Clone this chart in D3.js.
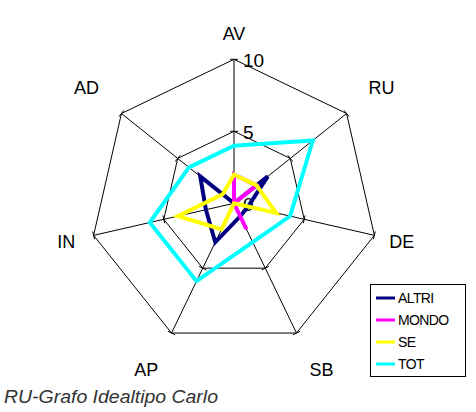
<!DOCTYPE html>
<html><head><meta charset="utf-8">
<script src="https://cdn.jsdelivr.net/npm/d3@7/dist/d3.min.js"></script>
<style>
html,body{margin:0;padding:0;background:#fff;}
svg{display:block;}
text{font-family:"Liberation Sans",Arial,sans-serif;}
</style></head>
<body>
<svg id="chart" width="476" height="412"></svg>
<script>
const categories = ["AV","RU","DE","SB","AP","IN","AD"];
const seriesNames = ["ALTRI","MONDO","SE","TOT"];
const ALTRI = [0,3,1,1,3,2,3];
const MONDO = [2,2,0,2,0,0,0];
const SE    = [2,2,3,0,2,4,1];
const TOT   = [4,7,4,3,6,6,4];
const seriesColors = ["#000080","#FF00FF","#FFFF00","#00FFFF"];
const ringValues = [5,10];
const tickLabels = ["0","5","10"];
const tickValues = [0,5,10];
const title = "RU-Grafo Idealtipo Carlo";

const svg = d3.select("#chart");
const cx = 234, cy = 203.3, R = 144;
const r = d3.scaleLinear().domain([0,10]).range([0,R]);
const n = categories.length;
const ang = d3.scaleLinear().domain([0,n]).range([0,2*Math.PI]);
const pt = (i,v)=>[cx+Math.sin(ang(i))*r(v), cy-Math.cos(ang(i))*r(v)];

const g = svg.append("g");
// rings
ringValues.forEach(v=>{
  g.append("path")
    .attr("d", d3.line()(d3.range(n).map(i=>pt(i,v)))+"Z")
    .attr("fill","none").attr("stroke","#000").attr("stroke-width",1);
});
// axes + ticks
d3.range(n).forEach(i=>{
  const [x2,y2]=pt(i,10);
  g.append("line").attr("x1",cx).attr("y1",cy).attr("x2",x2).attr("y2",y2)
    .attr("stroke","#000").attr("stroke-width",1);
  const a=ang(i);
  const px=Math.cos(a), py=Math.sin(a);
  ringValues.forEach(v=>{
    const [x,y]=pt(i,v);
    g.append("line").attr("x1",x-px*4).attr("y1",y-py*4).attr("x2",x+px*4).attr("y2",y+py*4)
      .attr("stroke","#000").attr("stroke-width",1);
  });
});
// tick labels
tickValues.forEach((v,k)=>{
  const [x,y]=pt(0,v);
  g.append("text").attr("x",x+9).attr("y",y+1).attr("dominant-baseline","central")
    .attr("font-size",19).attr("fill","#000").text(tickLabels[k]);
});
// category labels
const labelR = r(10)+28;
categories.forEach((c,i)=>{
  const a=ang(i), dx=Math.sin(a), dy=-Math.cos(a);
  let x=cx+dx*labelR, y=cy+dy*labelR;
  if (Math.abs(dy)>0.5 && Math.abs(dx)>0.3){ x+=Math.sign(dx)*13; y+=Math.sign(dy)*(dy>0?12:8); }
  if (Math.abs(dx)<0.1) y+=3;
  g.append("text").attr("font-size",18).attr("fill","#000")
    .attr("text-anchor","middle").attr("dominant-baseline","central")
    .attr("x",x).attr("y",y).text(c);
});
// series
const data=[ALTRI,MONDO,SE,TOT];
data.forEach((vals,s)=>{
  g.append("path")
    .attr("d", d3.line()(vals.map((v,i)=>pt(i,v)))+"Z")
    .attr("fill","none").attr("stroke",seriesColors[s]).attr("stroke-width",4)
    .attr("stroke-linejoin","miter");
});
// legend
const lg=svg.append("g");
lg.append("rect").attr("x",370.5).attr("y",284.5).attr("width",95).attr("height",92)
  .attr("fill","#fff").attr("stroke","#000").attr("stroke-width",1);
const ly=d3.scaleLinear().domain([0,3]).range([298,364]);
seriesNames.forEach((nm,s)=>{
  lg.append("line").attr("x1",376).attr("x2",395).attr("y1",ly(s)).attr("y2",ly(s))
    .attr("stroke",seriesColors[s]).attr("stroke-width",3);
  lg.append("text").attr("x",398).attr("y",ly(s)).attr("dominant-baseline","central")
    .attr("font-size",14).attr("letter-spacing",-0.6).attr("fill","#000").text(nm);
});
// title
svg.append("text").attr("x",4).attr("y",403).attr("font-size",18)
  .attr("font-style","italic").attr("fill","#333")
  .attr("textLength",214).attr("lengthAdjust","spacingAndGlyphs").text(title);
</script>
</body></html>
